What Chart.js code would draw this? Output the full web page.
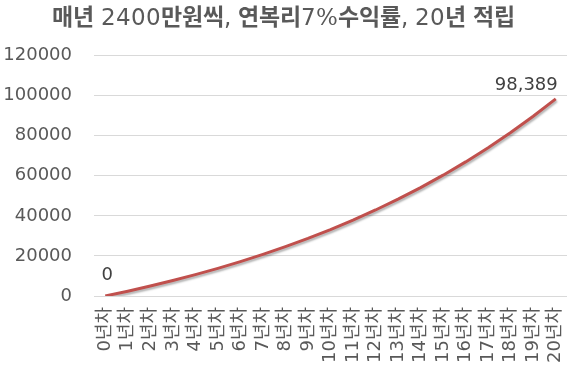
<!DOCTYPE html>
<html lang="ko">
<head>
<meta charset="UTF-8">
<title>매년 2400만원씩 적립</title>
<script src="https://cdn.jsdelivr.net/npm/chart.js"></script>
<style>
  html, body { margin: 0; padding: 0; background: #fff; }
  #wrap { width: 580px; height: 372px; }
  /* 제목: 숫자는 보통, 한글은 굵게 */
  @font-face { font-family: 'TitleKR'; src: local('DejaVu Sans'), local('DejaVuSans'); unicode-range: U+0020-007F; }
  @font-face { font-family: 'TitleKR'; src: local('Noto Sans CJK KR Bold'), local('NotoSansCJKkr-Bold'); unicode-range: U+1100-11FF, U+3130-318F, U+AC00-D7AF; }
</style>
</head>
<body>
<div id="wrap"><canvas id="myChart"></canvas></div>
<script>
// 연차 라벨
const labels = ['0년차', '1년차', '2년차', '3년차', '4년차', '5년차', '6년차', '7년차', '8년차', '9년차', '10년차',
    '11년차', '12년차', '13년차', '14년차', '15년차', '16년차', '17년차', '18년차', '19년차', '20년차'];
// 적립금 (만원)
const values = [0, 2400, 4968, 7716, 10656, 13802, 17168, 20770, 24624, 28747, 33159,
    37881, 42932, 48338, 54121, 60310, 66931, 74017, 81598, 89710, 98389];
// 값 라벨을 표시할 점
const labeledPoints = [0, 20];
const labelTexts = ['0', '98,389'];

const FONT = "'DejaVu Sans', 'Noto Sans CJK KR', sans-serif";
const TITLE_FONT = "TitleKR, 'DejaVu Sans', 'Noto Sans CJK KR', sans-serif";

// 선 그림자
const shadowPlugin = {
    id: 'shadow',
    beforeDatasetDraw(chart) {
        const ctx = chart.ctx;
        ctx.save();
        ctx.shadowColor = 'rgba(0,0,0,0.3)';
        ctx.shadowBlur = 2;
        ctx.shadowOffsetX = 1;
        ctx.shadowOffsetY = 2;
    },
    afterDatasetDraw(chart) {
        chart.ctx.restore();
    }
};

// 값 라벨
const pointLabels = {
    id: 'pointLabels',
    afterDatasetsDraw(chart) {
        const ctx = chart.ctx;
        const meta = chart.getDatasetMeta(0);
        ctx.save();
        ctx.font = '18px ' + FONT;
        ctx.fillStyle = '#404040';
        ctx.textBaseline = 'middle';
        labeledPoints.forEach((idx, i) => {
            const p = meta.data[idx];
            const last = idx === values.length - 1;
            ctx.textAlign = last ? 'right' : 'center';
            ctx.fillText(labelTexts[i], p.x + 2, p.y - (last ? 14 : 21));
        });
        ctx.restore();
    }
};

const config = {
    type: 'line',
    data: {
        labels: labels,
        datasets: [{
            data: values,
            borderColor: '#C0504D',
            borderWidth: 3,
            pointRadius: 0,
            tension: 0,
            fill: false
        }]
    },
    options: {
        responsive: true,
        maintainAspectRatio: false,
        animation: false,
        layout: { padding: { left: 0, right: 13, top: 0, bottom: 0 } },
        plugins: {
            legend: { display: false },
            tooltip: { enabled: false },
            title: {
                display: true,
                text: '매년 2400만원씩, 연복리7%수익률, 20년 적립',
                color: '#595959',
                font: { family: TITLE_FONT, size: 23, weight: 'normal' },
                padding: { top: 5, bottom: 23 }
            }
        },
        scales: {
            x: {
                offset: true,
                grid: { display: false, drawTicks: false },
                border: { display: false },
                ticks: {
                    color: '#595959',
                    font: { family: FONT, size: 18 },
                    minRotation: 90,
                    maxRotation: 90,
                    autoSkip: false,
                    padding: 11
                },
                afterFit(s) { s.height = 76; s.paddingRight = 0; s.paddingLeft = 0; }
            },
            y: {
                min: 0,
                max: 120000,
                ticks: {
                    stepSize: 20000,
                    color: '#595959',
                    font: { family: FONT, size: 18 },
                    padding: 22,
                    callback: v => String(v)
                },
                grid: { color: '#d9d9d9', lineWidth: 1, drawTicks: false },
                border: { display: false },
                afterFit(s) { s.width = 94; }
            }
        }
    },
    plugins: [shadowPlugin, pointLabels]
};

function draw() {
    new Chart(document.getElementById('myChart').getContext('2d'), config);
}

const timeout = new Promise(r => setTimeout(r, 1500));
Promise.race([document.fonts.load('23px TitleKR', '매년 2400'), timeout])
    .catch(() => {})
    .then(draw);
</script>
</body>
</html>
